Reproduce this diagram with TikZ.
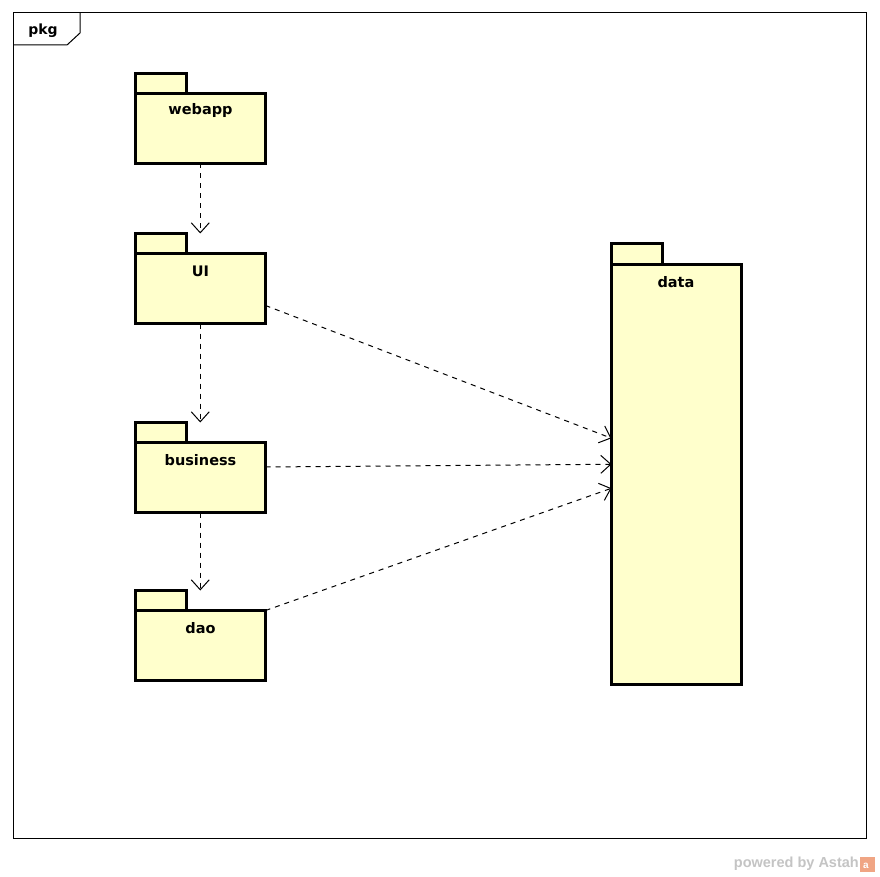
\documentclass[tikz,border=0pt]{standalone}
\usepackage{fontspec}
\setmainfont{DejaVu Sans}
\newfontfamily\wmfont{Liberation Sans}
\usetikzlibrary{arrows.meta,calc}
\definecolor{pkgfill}{HTML}{FFFFCC}
\definecolor{wmgray}{HTML}{C4C4C4}
\definecolor{wmorange}{HTML}{F0A584}
\begin{document}
\begin{tikzpicture}[x=1pt,y=-1pt,
  pkgbody/.style={draw,line width=3pt,fill=pkgfill,minimum width=130.5pt,minimum height=70pt,inner sep=0pt,outer sep=0pt,anchor=north west},
  pkgtab/.style={draw,line width=3pt,fill=pkgfill},
  pkgname/.style={font=\bfseries\fontsize{14.5pt}{16pt}\selectfont},
  dep/.style={line width=1pt,dash pattern=on 5pt off 5pt,-{Straight Barb[length=10pt,width=18pt,line width=1pt]}}
]
\useasboundingbox (0,0) rectangle (880,877);
\fill[white] (0,0) rectangle (880,877);
% frame
\draw[line width=1pt] (13,13) rectangle (866,838);
\draw[line width=1pt] (13,45) -- (67,45) -- (80,33) -- (80,13);
\node[font=\bfseries\fontsize{14pt}{16pt}\selectfont] (pkglabel) at (43,31) {pkg};
% packages
\node[pkgbody] (webapp) at (135,93.5) {};
\draw[pkgtab] (webapp.north west) rectangle ++(51,-20);
\node[pkgname] (webappname) at (200.5,111) {webapp};

\node[pkgbody] (UI) at (135,253.5) {};
\draw[pkgtab] (UI.north west) rectangle ++(51,-20);
\node[pkgname] (UIname) at (200.5,271) {UI};

\node[pkgbody] (business) at (135,442.5) {};
\draw[pkgtab] (business.north west) rectangle ++(51,-20);
\node[pkgname] (businessname) at (200.5,460) {business};

\node[pkgbody] (dao) at (135,610.5) {};
\draw[pkgtab] (dao.north west) rectangle ++(51,-20);
\node[pkgname] (daoname) at (200.5,628) {dao};

\node[pkgbody,minimum width=130pt,minimum height=419.5pt] (data) at (611.5,264.5) {};
\draw[pkgtab] (data.north west) rectangle ++(50.5,-20.5);
\node[pkgname] (dataname) at (676,282) {data};

% tops of the tabs row
\coordinate (UItop) at ($(UI.north)+(0,-20)$);
\coordinate (businesstop) at ($(business.north)+(0,-20)$);
\coordinate (daotop) at ($(dao.north)+(0,-20)$);

% dependencies
\draw[dep] (webapp.south) -- (UItop);
\draw[dep] (UI.south) -- (businesstop);
\draw[dep] (business.south) -- (daotop);
\draw[dep] ([yshift=-17pt]UI.east) -- ([yshift=36pt]data.west);
\draw[dep] ([yshift=10.5pt]business.east) -- ([yshift=10pt]data.west);
\draw[dep] (dao.north east) -- ([yshift=-14pt]data.west);

% watermark
\node[anchor=east,text=wmgray,font=\wmfont\bfseries\fontsize{14.5pt}{16pt}\selectfont,inner sep=0pt] (wm) at (859,864) {powered by Astah};
\fill[wmorange] (860,857) rectangle (875,872);
\node[text=white,font=\wmfont\bfseries\fontsize{10pt}{12pt}\selectfont,inner sep=0pt] (wmicon) at (866,866) {a};
\end{tikzpicture}
\end{document}
